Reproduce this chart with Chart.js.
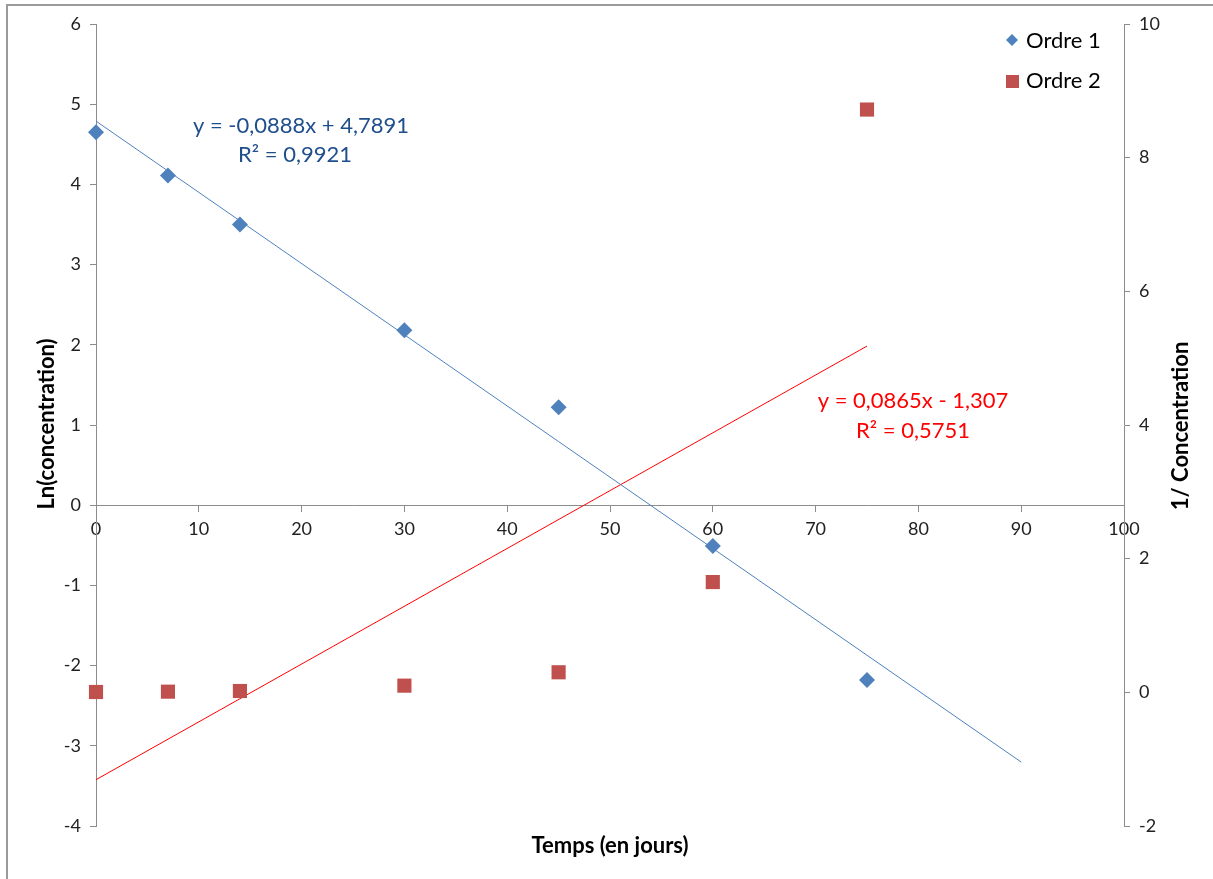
<!DOCTYPE html>
<html>
<head>
<meta charset="utf-8">
<script src="https://cdn.jsdelivr.net/npm/chart.js@4/dist/chart.umd.min.js"></script>
<style>
  html, body { margin: 0; padding: 0; background: #fff; }
  #wrap { width: 1213px; height: 879px; position: relative; }
</style>
</head>
<body>
<div id="wrap"><canvas id="c" width="1213" height="879"></canvas></div>
<script>
// ---- data ----
const temps = [0, 7, 14, 30, 45, 60, 75];
const ordre1 = [4.65, 4.11, 3.50, 2.18, 1.22, -0.51, -2.18];   // Ln(concentration), left axis
const ordre2 = [0.005, 0.01, 0.02, 0.10, 0.30, 1.65, 8.72];     // 1/Concentration, right axis
const xTicks = [0, 10, 20, 30, 40, 50, 60, 70, 80, 90, 100];
const yLeftTicks = [-4, -3, -2, -1, 0, 1, 2, 3, 4, 5, 6];
const yRightTicks = [-2, 0, 2, 4, 6, 8, 10];
// linear trendlines as shown in the chart labels: [slope, intercept], x range
const trend1 = [-0.0888, 4.7891];
const trend1Range = [0, 90];
const trend2 = [0.0865, -1.307];
const trend2Range = [0, 75];
const trend1Label = ['y = -0,0888x + 4,7891', 'R² = 0,9921'];
const trend2Label = ['y = 0,0865x - 1,307', 'R² = 0,5751'];
const seriesNames = ['Ordre 1', 'Ordre 2'];

const FONT = 'Lato, "Liberation Sans", sans-serif';
const BLUE = '#4F81BD';
const RED = '#C0504D';
const AXIS = '#8c8c8c';

const pts = (xs, ys) => xs.map((x, i) => ({ x: x, y: ys[i] }));
const line = (c, r) => r.map(x => ({ x: x, y: c[0] * x + c[1] }));

const extras = {
  id: 'extras',
  beforeDraw(chart) {
    const ctx = chart.ctx;
    ctx.save();
    ctx.fillStyle = '#fff';
    ctx.fillRect(0, 0, chart.width, chart.height);
    ctx.strokeStyle = '#9a9a9a';
    ctx.lineWidth = 2;
    ctx.strokeRect(7, 5, 1300, 1000);
    ctx.restore();
  },
  afterDraw(chart) {
    const ctx = chart.ctx;
    const a = chart.chartArea;
    ctx.save();
    // axis titles
    ctx.fillStyle = '#000';
    ctx.font = 'bold 22px ' + FONT;
    ctx.textAlign = 'center';
    ctx.textBaseline = 'middle';
    ctx.fillText('Temps (en jours)', (a.left + a.right) / 2, 846);
    ctx.save();
    ctx.translate(47, 424);
    ctx.rotate(-Math.PI / 2);
    ctx.fillText('Ln(concentration)', 0, 0);
    ctx.restore();
    ctx.save();
    ctx.translate(1181, 426);
    ctx.rotate(-Math.PI / 2);
    ctx.fillText('1/ Concentration', 0, 0);
    ctx.restore();

    // trendline labels
    ctx.font = '22px ' + FONT;
    ctx.fillStyle = '#1F4E8C';
    ctx.fillText(trend1Label[0], 301, 126);
    ctx.fillText(trend1Label[1], 295, 155);
    ctx.fillStyle = '#FF0000';
    ctx.fillText(trend2Label[0], 913, 401);
    ctx.fillText(trend2Label[1], 913, 431);

    // legend
    ctx.textAlign = 'left';
    ctx.fillStyle = '#000';
    ctx.font = '22px ' + FONT;
    ctx.fillText(seriesNames[0], 1026, 41);
    ctx.fillText(seriesNames[1], 1026, 81);
    ctx.fillStyle = BLUE;
    ctx.beginPath();
    ctx.moveTo(1012, 34); ctx.lineTo(1018, 40); ctx.lineTo(1012, 46); ctx.lineTo(1006, 40);
    ctx.closePath(); ctx.fill();
    ctx.fillStyle = RED;
    ctx.fillRect(1006, 75, 13, 13);
    ctx.restore();
  }
};

new Chart(document.getElementById('c'), {
  type: 'scatter',
  data: {
    datasets: [
      { label: seriesNames[0], data: pts(temps, ordre1), yAxisID: 'y', pointStyle: 'rectRot', clip: false,
        pointRadius: 8, pointHoverRadius: 8, backgroundColor: BLUE, borderColor: BLUE, borderWidth: 0, order: 0 },
      { label: seriesNames[1], data: pts(temps, ordre2), yAxisID: 'y2', pointStyle: 'rect', clip: false,
        pointRadius: 10, pointHoverRadius: 10, backgroundColor: RED, borderColor: RED, borderWidth: 0, order: 0 },
      { label: 't1', data: line(trend1, trend1Range), yAxisID: 'y', showLine: true, pointRadius: 0,
        borderColor: BLUE, borderWidth: 1, order: 1 },
      { label: 't2', data: line(trend2, trend2Range), yAxisID: 'y2', showLine: true, pointRadius: 0,
        borderColor: '#FF0000', borderWidth: 1, order: 1 }
    ]
  },
  options: {
    responsive: false,
    animation: false,
    layout: { padding: { left: 0, right: 0, top: 24, bottom: 53 } },
    plugins: { legend: { display: false }, tooltip: { enabled: false } },
    scales: {
      x: {
        type: 'linear', position: { y: 0 }, min: 0, max: 100,
        afterBuildTicks: s => { s.ticks = xTicks.map(v => ({ value: v })); },
        grid: { drawOnChartArea: false, drawTicks: true, tickLength: 6, color: AXIS },
        border: { color: AXIS, width: 1 },
        ticks: { font: { family: FONT, size: 18 }, color: '#222', padding: 7, maxRotation: 0, autoSkip: false }
      },
      y: {
        type: 'linear', position: 'left', min: -4, max: 6,
        afterBuildTicks: s => { s.ticks = yLeftTicks.map(v => ({ value: v })); },
        afterFit: s => { s.width = 96; },
        grid: { drawOnChartArea: false, drawTicks: true, tickLength: 6, color: AXIS },
        border: { color: AXIS, width: 1 },
        ticks: { font: { family: FONT, size: 18 }, color: '#222', padding: 9 }
      },
      y2: {
        type: 'linear', position: 'right', min: -2, max: 10,
        afterBuildTicks: s => { s.ticks = yRightTicks.map(v => ({ value: v })); },
        afterFit: s => { s.width = 89; },
        grid: { drawOnChartArea: false, drawTicks: true, tickLength: 6, color: AXIS },
        border: { color: AXIS, width: 1 },
        ticks: { font: { family: FONT, size: 18 }, color: '#222', padding: 9 }
      }
    }
  },
  plugins: [extras]
});
</script>
</body>
</html>
